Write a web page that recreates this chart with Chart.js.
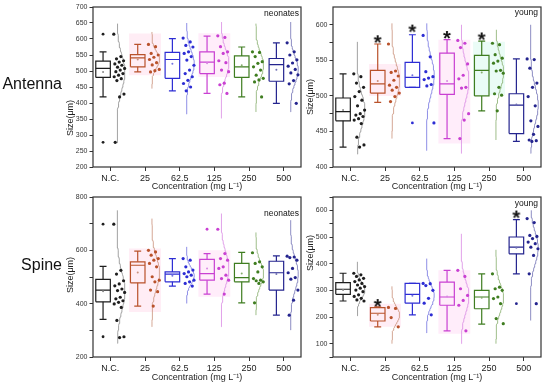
<!DOCTYPE html>
<html>
<head>
<meta charset="utf-8">
<script src="https://cdn.jsdelivr.net/npm/chart.js@4.4.0/dist/chart.umd.min.js"></script>
<style>
  body { margin: 0; background: #fff; width: 550px; height: 386px; position: relative; overflow: hidden;
         font-family: 'Liberation Sans', Arial, sans-serif; }
  canvas { position: absolute; }
  .row { position: absolute; left: 0; width: 62px; text-align: right; font-size: 16px; line-height: 16px; color: #111; z-index: 2; }
  .tag { position: absolute; font-size: 8.5px; line-height: 9px; color: #111; text-align: right; z-index: 2; }
  .ytitle { position: absolute; width: 60px; height: 12px; font-size: 9px; line-height: 12px; color: #222;
            text-align: center; transform: rotate(-90deg); z-index: 2; }
</style>
</head>
<body>
<div class="row" style="top:76px">Antenna</div>
<div class="row" style="top:257px">Spine</div>
<canvas id="p1" width="245" height="193" style="left:60px;top:0px"></canvas>
<canvas id="p2" width="248" height="193" style="left:300px;top:0px"></canvas>
<canvas id="p3" width="245" height="194" style="left:60px;top:190px"></canvas>
<canvas id="p4" width="248" height="194" style="left:300px;top:190px"></canvas>
<div class="tag" style="right:251px;top:9px">neonates</div>
<div class="tag" style="right:12px;top:8px">young</div>
<div class="tag" style="right:251px;top:209px">neonates</div>
<div class="tag" style="right:12px;top:199px">young</div>
<div class="ytitle" style="left:40px;top:112px">Size(μm)</div>
<div class="ytitle" style="left:280px;top:91px">Size(μm)</div>
<div class="ytitle" style="left:40px;top:269px">Size(μm)</div>
<div class="ytitle" style="left:280px;top:247px">Size(μm)</div>
<script>
const categories = ['N.C.', '25', '62.5', '125', '250', '500'];
const boxColors = ['#1e1e1e', '#b9522b', '#2d2dd4', '#c940d2', '#3f7d20', '#24248e'];
const curveColors = ['#8a8a8a', '#c9907a', '#7272e0', '#d98ae3', '#86ad6c', '#7070b4'];
const bandFills = [null, 'rgba(255,150,195,0.17)', 'rgba(160,190,255,0.14)', 'rgba(255,150,225,0.17)', 'rgba(160,240,215,0.22)', null];

// Antenna, neonates
const antNeoQ1 = [480, 513, 477, 492, 480, 468];
const antNeoMed = [508, 541, 536, 528, 513, 520];
const antNeoQ3 = [531, 551, 558, 560, 547, 539];
const antNeoLo = [419, 497, 438, 430, 419, 399];
const antNeoHi = [560, 583, 601, 609, 575, 588];
const antNeoMean = [497, 536, 523, 524, 518, 504];
const antNeoOut = [[615, 277], [], [], [], [], []];
const antNeoPts = [
  [615, 545, 538, 532, 528, 522, 518, 512, 508, 503, 498, 492, 487, 482, 476, 470, 428, 419, 277],
  [583, 576, 555, 550, 543, 536, 526, 519, 505, 501, 497],
  [603, 591, 580, 575, 560, 555, 545, 534, 518, 503, 492, 482, 471, 461, 450, 438],
  [610, 605, 576, 560, 555, 532, 526, 503, 498, 462, 457, 430],
  [560, 558, 545, 529, 524, 513, 503, 487, 477, 472, 466, 419],
  [588, 560, 550, 535, 525, 515, 505, 494, 488, 470, 460, 399]
];
const antNeoCurve = [[275, 648], [445, 622], [365, 650], [352, 653], [372, 648], [372, 653]];
const antNeoBand = [null, [487, 617], null, [481, 618], null, null];
const antNeoStar = [null, null, null, null, null, null];

// Antenna, young
const antYngQ1 = [465, 504, 512, 502, 500, 447];
const antYngMed = [478, 517, 526, 517, 536, 487];
const antYngQ3 = [497, 536, 547, 560, 557, 503];
const antYngLo = [428, 491, 512, 440, 479, 436];
const antYngHi = [531, 573, 586, 579, 577, 552];
const antYngMean = [480, 521, 529, 521, 533, 488];
const antYngOut = [[], [], [462], [], [], []];
const antYngPts = [
  [531, 527, 518, 512, 506, 499, 494, 486, 480, 475, 473, 471, 468, 466, 461, 442, 431, 428],
  [573, 535, 533, 528, 522, 515, 512, 508, 504, 499, 492],
  [585, 555, 534, 527, 525, 523, 516, 514, 462],
  [578, 574, 568, 545, 529, 524, 512, 511, 475, 466, 440],
  [574, 572, 558, 553, 549, 546, 536, 535, 532, 512, 503, 501, 479],
  [552, 551, 539, 518, 512, 499, 486, 465, 457, 446, 438, 437, 436]
];
const antYngCurve = [[418, 576], [440, 602], [423, 602], [419, 600], [438, 593], [419, 600]];
const antYngBand = [null, [500, 545], null, [433, 579], [501, 576], null];
const antYngStar = [null, 581, 596, 587, 585, null];

// Spine, neonates
const spnNeoQ1 = [407, 478, 482, 488, 482, 451];
const spnNeoMed = [451, 544, 511, 513, 498, 516];
const spnNeoQ3 = [491, 557, 519, 566, 551, 559];
const spnNeoLo = [341, 391, 466, 436, 403, 357];
const spnNeoHi = [540, 597, 569, 588, 592, 579];
const spnNeoMean = [447, 517, 505, 532, 513, 511];
const spnNeoOut = [[698, 276], [], [], [679], [], []];
const spnNeoPts = [
  [698, 525, 511, 486, 474, 467, 455, 449, 442, 424, 418, 411, 405, 399, 386, 337, 276, 273],
  [600, 594, 582, 569, 563, 551, 538, 501, 488, 482, 451, 445, 391],
  [569, 563, 538, 526, 519, 513, 507, 501, 488, 482, 476, 466],
  [679, 588, 569, 563, 538, 532, 507, 494, 488, 436],
  [591, 557, 551, 538, 519, 494, 488, 486, 482, 476, 403],
  [578, 575, 573, 563, 532, 516, 498, 492, 451, 413, 357]
];
const spnNeoCurve = [[251, 750], [313, 719], [401, 613], [313, 738], [357, 667], [301, 713]];
const spnNeoBand = [null, [369, 607], null, [426, 600], null, null];
const spnNeoStar = [null, null, null, null, null, null];

// Spine, young
const spnYngQ1 = [285, 185, 252, 244, 231, 437];
const spnYngMed = [304, 214, 285, 275, 275, 462];
const spnYngQ3 = [329, 235, 326, 331, 300, 500];
const spnYngLo = [260, 163, 208, 148, 173, 362];
const spnYngHi = [364, 238, 326, 375, 362, 565];
const spnYngMean = [301, 208, 280, 277, 272, 460];
const spnYngOut = [[], [], [], [], [], [250]];
const spnYngPts = [
  [364, 358, 352, 345, 339, 333, 326, 320, 314, 308, 301, 295, 283, 277, 270, 264, 260],
  [236, 232, 198, 163],
  [326, 325, 318, 300, 270, 252, 208],
  [375, 352, 306, 281, 262, 244, 148],
  [362, 312, 306, 300, 275, 269, 250, 194, 175],
  [569, 554, 506, 502, 494, 481, 475, 462, 456, 431, 362, 250]
];
const spnYngCurve = [[204, 407], [100, 315], [140, 419], [100, 512], [100, 452], [187, 600]];
const spnYngBand = [null, [163, 250], null, [137, 375], null, null];
const spnYngStar = [null, 256, null, null, null, 588];

// y axis ticks
const antNeoTicks = [200, 250, 300, 350, 400, 450, 500, 550, 600, 650, 700];
const antYngTicks = [400, 425, 450, 475, 500, 525, 550, 575, 600];
const antYngLabels = [400, 450, 500, 550, 600];
const spnNeoTicks = [200, 300, 400, 500, 600, 700, 800];
const spnNeoLabels = [200, 400, 600, 800];
const spnYngTicks = [50, 100, 150, 200, 250, 300, 350, 400, 450, 500, 550, 600, 650];
const spnYngLabels = [100, 200, 300, 400, 500, 600];

Chart.defaults.font.family = "'Liberation Sans', Arial, sans-serif";
Chart.defaults.color = '#222';

// asterisk marker
const starImg = document.createElement('canvas');
starImg.width = 12; starImg.height = 12;
const sctx = starImg.getContext('2d');
sctx.fillStyle = '#111';
sctx.font = "bold 20px 'Liberation Sans', Arial";
sctx.textAlign = 'center';
sctx.fillText('*', 6, 17);

const frame = {
  id: 'frame',
  afterDraw(chart) {
    const { ctx, chartArea: a } = chart;
    ctx.save();
    ctx.strokeStyle = '#333';
    ctx.lineWidth = 1.2;
    ctx.strokeRect(a.left, a.top, a.right - a.left, a.bottom - a.top);
    ctx.restore();
  }
};

function rect(x0, x1, y0, y1) {
  return [{ x: x0, y: y0 }, { x: x1, y: y0 }, { x: x1, y: y1 }, { x: x0, y: y1 }, { x: x0, y: y0 }];
}

function groupSets(p, i) {
  const col = boxColors[i], cx = i - 0.21, w = 0.1;
  const out = [];
  if (p.band[i]) {
    out.push({ data: rect(i - 0.46, i + 0.46, p.band[i][0], p.band[i][1]), showLine: true, fill: 'shape',
      backgroundColor: bandFills[i], borderWidth: 0, pointRadius: 0, order: 5 });
  }
  out.push({ data: rect(i - 0.42, i, p.q1[i], p.q3[i]), showLine: true, borderColor: col, borderWidth: 1.2,
    borderJoinStyle: 'miter', pointRadius: 0, order: 2 });
  out.push({ data: [
      { x: cx - w, y: p.hi[i] }, { x: cx + w, y: p.hi[i] }, { x: cx, y: null },
      { x: cx, y: p.hi[i] }, { x: cx, y: p.q3[i] }, { x: cx, y: null },
      { x: cx, y: p.q1[i] }, { x: cx, y: p.lo[i] }, { x: cx, y: null },
      { x: cx - w, y: p.lo[i] }, { x: cx + w, y: p.lo[i] }, { x: cx, y: null },
      { x: i - 0.42, y: p.med[i] }, { x: i, y: p.med[i] }],
    showLine: true, spanGaps: false, borderColor: col, borderWidth: 1.2, pointRadius: 0, order: 2 });

  // fitted normal curve drawn vertically beside the points
  const [lo, hi] = p.curve[i];
  const mu = p.mean[i], sd = (hi - lo) / 7;
  const cpts = [];
  for (let k = 0; k <= 60; k++) {
    const y = lo + (hi - lo) * k / 60;
    cpts.push({ x: i + 0.2 + 0.22 * Math.exp(-0.5 * ((y - mu) / sd) ** 2), y });
  }
  out.push({ data: cpts, showLine: true, borderColor: curveColors[i], borderWidth: 0.8, pointRadius: 0, order: 3 });

  out.push({ data: p.pts[i].map((v, k) => ({ x: i + 0.1 + 0.33 * ((k * 0.618034) % 1), y: v })),
    pointRadius: 1.6, backgroundColor: col, borderWidth: 0, order: 1 });
  out.push({ data: [{ x: cx, y: p.mean[i] }], pointRadius: 1, backgroundColor: curveColors[i], borderWidth: 0, order: 1 });
  if (p.out[i].length) {
    out.push({ data: p.out[i].map(v => ({ x: cx, y: v })), pointRadius: 1.4, backgroundColor: col, borderWidth: 0, order: 1 });
  }
  if (p.star[i] != null) {
    out.push({ data: [{ x: cx, y: p.star[i] }], pointStyle: starImg, order: 0 });
  }
  return out;
}

function makeChart(id, p, yMin, yMax, yTicks, yLabels, padRight) {
  const datasets = [];
  categories.forEach((c, i) => datasets.push(...groupSets(p, i)));
  new Chart(document.getElementById(id), {
    type: 'scatter',
    data: { datasets },
    options: {
      responsive: false,
      animation: false,
      devicePixelRatio: 1,
      events: [],
      layout: { padding: { top: 7, right: padRight, left: 0, bottom: 0 } },
      plugins: { legend: { display: false }, tooltip: { enabled: false } },
      scales: {
        x: {
          type: 'linear', min: -0.5, max: 5.5,
          afterBuildTicks: s => { s.ticks = categories.map((c, i) => ({ value: i })); },
          afterFit: s => { s.height = id === 'p1' || id === 'p2' ? 26 : 27; },
          ticks: { callback: v => categories[v], font: { size: 9 }, color: '#222', padding: 2, maxRotation: 0, autoSkip: false },
          grid: { drawOnChartArea: false, drawTicks: true, tickLength: 4, color: '#333' },
          border: { display: false },
          title: { display: true, text: 'Concentration (mg L\u207B\u00B9)', font: { size: 9 }, color: '#222', padding: { top: 0, bottom: 0.6 } }
        },
        y: {
          min: yMin, max: yMax,
          afterBuildTicks: s => { s.ticks = yTicks.map(v => ({ value: v })); },
          afterFit: s => { s.width = 33; },
          ticks: { callback: v => (yLabels.includes(v) ? String(v) : ''), font: { size: 7 }, color: '#333', padding: 2, autoSkip: false },
          grid: { drawOnChartArea: false, drawTicks: true, tickLength: 3.5, color: '#333' },
          border: { display: false },
          title: { display: false }
        }
      }
    },
    plugins: [frame]
  });
}

makeChart('p1', { q1: antNeoQ1, med: antNeoMed, q3: antNeoQ3, lo: antNeoLo, hi: antNeoHi, mean: antNeoMean,
  out: antNeoOut, pts: antNeoPts, curve: antNeoCurve, band: antNeoBand, star: antNeoStar },
  200, 700, antNeoTicks, antNeoTicks, 3);
makeChart('p2', { q1: antYngQ1, med: antYngMed, q3: antYngQ3, lo: antYngLo, hi: antYngHi, mean: antYngMean,
  out: antYngOut, pts: antYngPts, curve: antYngCurve, band: antYngBand, star: antYngStar },
  400, 625, antYngTicks, antYngLabels, 7);
makeChart('p3', { q1: spnNeoQ1, med: spnNeoMed, q3: spnNeoQ3, lo: spnNeoLo, hi: spnNeoHi, mean: spnNeoMean,
  out: spnNeoOut, pts: spnNeoPts, curve: spnNeoCurve, band: spnNeoBand, star: spnNeoStar },
  200, 800, spnNeoTicks, spnNeoLabels, 3);
makeChart('p4', { q1: spnYngQ1, med: spnYngMed, q3: spnYngQ3, lo: spnYngLo, hi: spnYngHi, mean: spnYngMean,
  out: spnYngOut, pts: spnYngPts, curve: spnYngCurve, band: spnYngBand, star: spnYngStar },
  50, 650, spnYngTicks, spnYngLabels, 7);
</script>
</body>
</html>
